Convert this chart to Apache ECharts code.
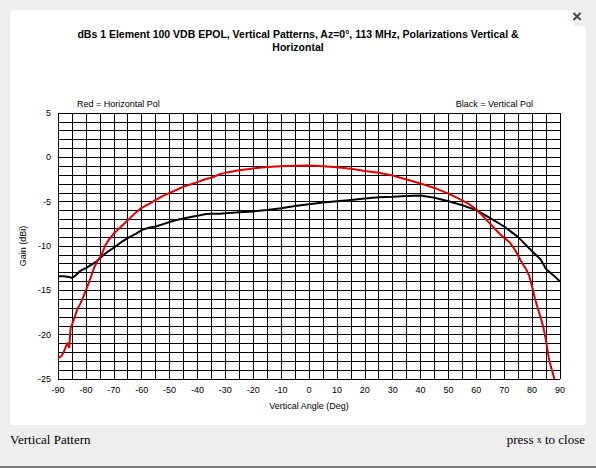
<!DOCTYPE html>
<html>
<head>
<meta charset="utf-8"/>
<title>Vertical Pattern</title>
<script src="https://cdn.jsdelivr.net/npm/echarts@6/dist/echarts.min.js"></script>
<style>
    html, body { margin: 0; padding: 0; background: #eeeeee; }
    #chart { width: 596px; height: 468px; }
</style>
</head>
<body>
<div id="chart"></div>
<script>
    // Horizontal pol (red)
    var hAngles = [-90, -89, -88, -87, -86.5, -86, -85.5, -85, -84, -83, -82, -81, -80, -79, -78, -77, -76, -75, -74, -73, -72, -70,
        -68, -66, -64, -62, -60, -57, -55, -52, -50, -47, -45, -42, -40, -37, -35, -32, -30, -25, -20, -15, -10, -5,
        0, 5, 10, 15, 20, 25, 30, 35, 40, 45, 50, 55, 58, 60, 62, 65, 68, 70, 72, 74, 76, 78, 79, 80, 81, 82, 83, 84, 85, 86, 87, 88];
    var hGain = [-22.6, -22.5, -22.0, -21.2, -20.9, -21.5, -19.3, -18.9, -18.0, -17.1, -16.5, -15.8, -15.0, -14.2, -13.3, -12.4, -11.8, -11.3, -10.7, -9.9, -9.4, -8.6,
        -8.0, -7.4, -6.8, -6.2, -5.7, -5.2, -4.8, -4.3, -4.0, -3.6, -3.3, -3.0, -2.8, -2.45, -2.3, -1.9, -1.75, -1.45, -1.25, -1.1, -1.0, -0.95,
        -0.92, -1.0, -1.12, -1.3, -1.55, -1.75, -2.05, -2.5, -2.95, -3.45, -4.1, -4.85, -5.4, -5.9, -6.5, -7.5, -8.5, -9.1, -9.6, -10.5, -11.7, -12.7, -13.4, -14.6, -15.9, -17.0, -18.0, -19.1, -20.7, -22.7, -23.9, -25.0];

    // Vertical pol (black)
    var vAngles = [-90, -88, -86, -85, -84, -83, -82, -80, -78, -76, -75, -74, -72, -70, -67, -65, -62, -60, -57, -55, -52, -50, -48, -45, -42, -40,
        -37, -35, -32, -30, -25, -20, -15, -10, -5, 0, 5, 10, 15, 20, 25, 30, 35, 40, 45, 50, 55, 60, 65, 70, 75, 80, 83, 85, 88, 90];
    var vGain = [-13.4, -13.4, -13.5, -13.6, -13.4, -13.1, -12.8, -12.5, -12.1, -11.7, -11.4, -11.1, -10.6, -10.2, -9.5, -9.1, -8.6, -8.2, -7.9, -7.8, -7.5, -7.3, -7.1, -6.9, -6.7, -6.6,
        -6.4, -6.35, -6.35, -6.3, -6.2, -6.1, -5.95, -5.75, -5.5, -5.3, -5.1, -4.95, -4.8, -4.65, -4.5, -4.45, -4.35, -4.3, -4.55, -4.95, -5.4, -5.95, -6.85, -7.8, -9.0, -10.6, -11.5, -12.6, -13.4, -14.0];

    function pairs(xs, ys) {
        var out = [];
        for (var i = 0; i < xs.length; i++) {
            out.push([xs[i], ys[i]]);
        }
        return out;
    }

    var sans = 'Liberation Sans, Arial, sans-serif';
    var myChart = echarts.init(document.getElementById('chart'), null, {renderer: 'svg'});
    var option = {
        backgroundColor: '#eeeeee',
        animation: false,
        graphic: [
            {type: 'rect', z: -10, shape: {x: 10, y: 10, width: 564, height: 415, r: 3}, style: {fill: '#ffffff'}},
            {type: 'rect', z: -10, shape: {x: 10, y: 26, width: 576, height: 399, r: 3}, style: {fill: '#ffffff'}},
            {type: 'rect', z: -10, shape: {x: 0, y: 466, width: 596, height: 2}, style: {fill: '#7a7a7a'}},
            {type: 'text', x: 572, y: 8, style: {text: '×', font: 'bold 17px ' + sans, fill: '#444444'}},
            {type: 'text', x: 298, y: 27, style: {text: 'dBs 1 Element 100 VDB EPOL, Vertical Patterns, Az=0°, 113 MHz, Polarizations Vertical &\nHorizontal',
                    font: 'bold 10.5px ' + sans, fill: '#000000', align: 'center', lineHeight: 13}},
            {type: 'text', x: 77, y: 99, style: {text: 'Red = Horizontal Pol', font: '9px ' + sans, fill: '#000000'}},
            {type: 'text', x: 533, y: 99, style: {text: 'Black = Vertical Pol', font: '9px ' + sans, fill: '#000000', align: 'right'}},
            {type: 'text', x: 10, y: 433, style: {text: 'Vertical Pattern', font: '13px Liberation Serif, serif', fill: '#000000'}},
            {type: 'text', x: 585, y: 433, style: {
                    text: '{a|press }{b|x}{a| to close}', align: 'right',
                    rich: {a: {font: '13px Liberation Serif, serif', fill: '#000000'}, b: {font: '10px Liberation Serif, serif', fill: '#000000'}}
                }}
        ],
        grid: {left: 58, right: 36, top: 113, bottom: 89},
        xAxis: {
            type: 'value', min: -90, max: 90, interval: 10,
            name: 'Vertical Angle (Deg)', nameLocation: 'middle', nameGap: 22,
            nameTextStyle: {fontFamily: sans, fontSize: 9, color: '#000'},
            axisLine: {show: true, lineStyle: {color: '#000', width: 1}},
            axisTick: {show: true, length: 3, lineStyle: {color: '#000'}},
            axisLabel: {fontFamily: sans, fontSize: 9, color: '#000', margin: 6},
            minorTick: {show: false, splitNumber: 2},
            splitLine: {show: true, lineStyle: {color: '#000', width: 1}},
            minorSplitLine: {show: true, lineStyle: {color: '#000', width: 1}}
        },
        yAxis: {
            type: 'value', min: -25, max: 5, interval: 5,
            name: 'Gain (dBi)', nameLocation: 'middle', nameGap: 30,
            nameTextStyle: {fontFamily: sans, fontSize: 9, color: '#000'},
            axisLine: {show: true, lineStyle: {color: '#000', width: 1}},
            axisTick: {show: true, length: 3, lineStyle: {color: '#000'}},
            axisLabel: {fontFamily: sans, fontSize: 9, color: '#000', margin: 7},
            minorTick: {show: false, splitNumber: 5},
            splitLine: {show: true, lineStyle: {color: '#000', width: 1}},
            minorSplitLine: {show: true, lineStyle: {color: '#000', width: 1}}
        },
        series: [
            {
                name: 'Vertical Pol', type: 'line', data: pairs(vAngles, vGain),
                showSymbol: false, smooth: false,
                lineStyle: {color: '#000000', width: 2}
            },
            {
                name: 'Horizontal Pol', type: 'line', data: pairs(hAngles, hGain),
                showSymbol: false, smooth: false,
                lineStyle: {color: '#e00000', width: 2}
            }
        ]
    };
    myChart.setOption(option);
</script>
</body>
</html>
